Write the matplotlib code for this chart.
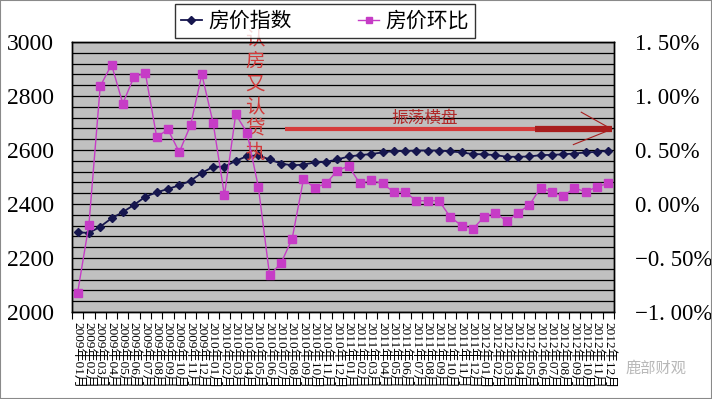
import numpy as np
import matplotlib
matplotlib.use('Agg')
import matplotlib.pyplot as plt
from matplotlib.ticker import MultipleLocator, FixedLocator, NullFormatter
from matplotlib.lines import Line2D
from matplotlib.patches import Rectangle

plt.rcParams['font.family'] = ['Liberation Serif', 'Noto Sans CJK SC']

#----------------------------------------------------- DATA
years = [2009, 2010, 2011, 2012]
months = [f"{y}年{m:02d}月" for y in years for m in range(1, 13)]

index_vals = [2295, 2293, 2316, 2347, 2370, 2397, 2427, 2443, 2456, 2469,
              2486, 2515, 2538, 2538, 2560, 2577, 2580, 2565, 2550, 2543,
              2546, 2554, 2556, 2565, 2576, 2581, 2585, 2591, 2596, 2596,
              2598, 2598, 2598, 2595, 2591, 2585, 2584, 2581, 2575, 2575,
              2576, 2581, 2582, 2584, 2587, 2591, 2593, 2597]

mom_pct = [-0.82, -0.19, 1.09, 1.29, 0.93, 1.18, 1.21, 0.62, 0.69, 0.48,
           0.73, 1.20, 0.75, 0.08, 0.83, 0.66, 0.16, -0.66, -0.55, -0.32,
           0.23, 0.15, 0.19, 0.31, 0.35, 0.19, 0.22, 0.19, 0.11, 0.11,
           0.03, 0.03, 0.03, -0.12, -0.20, -0.23, -0.12, -0.08, -0.16, -0.08,
           -0.01, 0.15, 0.11, 0.07, 0.15, 0.11, 0.16, 0.19]

left_ticks = [2000, 2200, 2400, 2600, 2800, 3000]
right_ticks = [-1.0, -0.5, 0.0, 0.5, 1.0, 1.5]
series_names = ['房价指数', '房价环比']

#----------------------------------------------------- FIGURE
fig = plt.figure(figsize=(7.12, 3.99), dpi=100)
ax = fig.add_axes([72/712, 1-312/399, 542/712, 270/399])
ax2 = ax.twinx()

x = np.arange(len(months))
blue = '#16164e'
pink = '#c63cc6'

ax.set_facecolor('#c0c0c0')
ax.plot(x, index_vals, color=blue, lw=1.3, marker='D', ms=4.0, zorder=3)
ax2.plot(x, mom_pct, color=pink, lw=1.0, marker='s', ms=5.5, zorder=3)

ax.set_xlim(-0.5, len(months)-0.5)
ax.set_ylim(2000, 3000)
ax2.set_ylim(-1.0, 1.5)

# horizontal grid every 40 on left scale
ax.yaxis.set_major_locator(FixedLocator(left_ticks))
ax.yaxis.set_minor_locator(MultipleLocator(40))
ax.grid(axis='y', which='both', color='black', lw=0.9)
ax.set_axisbelow(True)
ax.tick_params(axis='y', which='both', length=0, labelsize=17, pad=13)

def pct_label(v):
    s = f"{abs(v):.2f}".replace('.', '. ') + '%'
    return ('\u2212' + s) if v < 0 else s

ax2.set_yticks(right_ticks)
ax2.set_yticklabels([pct_label(v) for v in right_ticks])
ax2.tick_params(axis='y', length=0, labelsize=16.5, pad=15)

# category axis: ticks between months, labels at centres
ax.xaxis.set_major_locator(FixedLocator(np.arange(len(months)+1) - 0.5))
ax.xaxis.set_major_formatter(NullFormatter())
ax.xaxis.set_minor_locator(FixedLocator(x))
ax.set_xticklabels(months, minor=True, rotation=-90, fontsize=9.5)
ax.tick_params(axis='x', which='major', length=5, direction='out', width=0.8)
ax.tick_params(axis='x', which='minor', length=0, pad=7)

for a in (ax, ax2):
    for s in a.spines.values():
        s.set_color('black')
        s.set_linewidth(1.0)

#----------------------------------------------------- ANNOTATIONS
ax.text(0.338, 1.05, '认\n房\n又\n认\n贷\n执', transform=ax.transAxes,
        color='#d23a3a', fontsize=14, ha='center', va='top', linespacing=1.1,
        family=['Noto Sans CJK SC'], zorder=5)

ax.plot([18.4, 40.5], [2677, 2677], color='#d63c3c', lw=3, solid_capstyle='butt', zorder=4)
ax.plot([40.5, 47.3], [2677, 2677], color='#a81e1e', lw=4.5, solid_capstyle='butt', zorder=4)
ax.plot([44.6, 47.3], [2740, 2677], color='#a81e1e', lw=0.8, zorder=4)
ax.plot([43.9, 47.3], [2620, 2677], color='#a81e1e', lw=0.8, zorder=4)
ax.text(30.7, 2718, '振荡横盘', color='#b02a2a', fontsize=12, ha='center', va='center',
        family=['Noto Sans CJK SC'], zorder=5)

#----------------------------------------------------- LEGEND
handles = [Line2D([], [], color=blue, lw=1.3, marker='D', ms=4),
           Line2D([], [], color=pink, lw=1.0, marker='s', ms=5)]
leg = fig.legend(handles, series_names, loc='center', bbox_to_anchor=(325/712, 1-21/399),
                 ncol=2, frameon=True, fancybox=False, edgecolor='black',
                 handlelength=1.0, handletextpad=0.3, columnspacing=3.2,
                 borderpad=0.3, borderaxespad=0, prop={'family': ['Noto Sans CJK SC'], 'size': 15})
leg.get_frame().set_linewidth(1.0)

# watermark
fig.text(625/712, 1-368/399, '鹿部财观', color='#b8b8b8', fontsize=11,
         family=['Noto Sans CJK SC'], ha='left', va='center')

fig.patches.append(Rectangle((0, 0), 1, 1, transform=fig.transFigure, fill=False,
                             edgecolor='#8a8a8a', lw=1.5))

fig.savefig('out.png', dpi=100)
